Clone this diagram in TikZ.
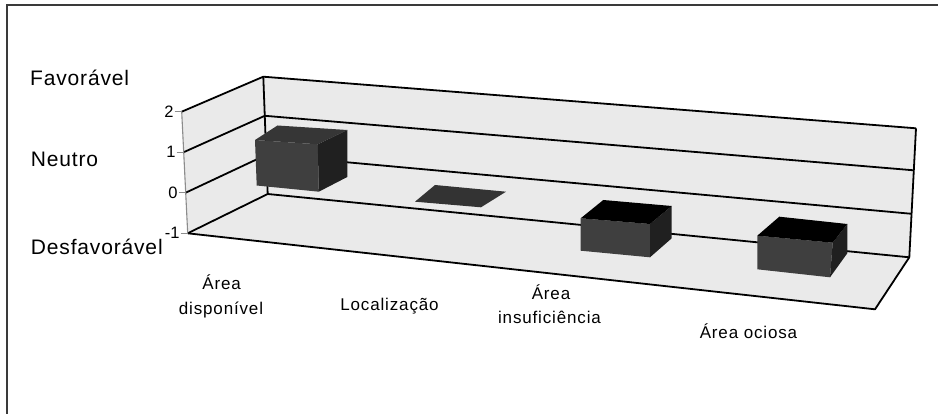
\documentclass[tikz,border=0pt]{standalone}
\usepackage{fontspec}
\setmainfont{Liberation Sans}
\newfontfamily\catfont[LetterSpace=5]{Liberation Sans}
\newfontfamily\bigfont[LetterSpace=4]{Liberation Sans}
\definecolor{wallgray}{HTML}{EAEAEA}
\definecolor{framegray}{HTML}{3A3A3A}
\definecolor{axisgray}{HTML}{8C8C8C}
\definecolor{barfront}{HTML}{3F3F3F}
\definecolor{barside}{HTML}{202020}
\definecolor{bartop}{HTML}{363636}
\definecolor{negtop}{HTML}{000000}
\definecolor{flatbar}{HTML}{333333}
\begin{document}
\begin{tikzpicture}[x=1pt,y=-1pt,
  wall/.style={fill=wallgray,draw=none},
  edgeline/.style={draw=black,line width=1.8pt,line join=round},
  axisline/.style={draw=axisgray,line width=1.1pt},
  tickline/.style={draw=axisgray,line width=0.9pt},
  ticklabel/.style={anchor=east,inner sep=0pt,font=\fontsize{16.5}{19}\selectfont},
  sidelabel/.style={anchor=base west,inner sep=0pt,font=\bigfont\fontsize{21}{25}\selectfont},
  catlabel/.style={anchor=base,inner sep=0pt,font=\catfont\fontsize{17}{20}\selectfont},
  frontface/.style={fill=barfront},
  sideface/.style={fill=barside},
  topface/.style={fill=bartop},
  negtopface/.style={fill=negtop},
  flatface/.style={fill=flatbar}]
\useasboundingbox (0,0) rectangle (938,414);
% frame
\draw[framegray,line width=2pt] (7,414) -- (7,5) -- (938,5);
% key corners of the 3-D box
\coordinate (F2) at (181.7,111.7); \coordinate (F1) at (183.7,152.2);
\coordinate (F0) at (185.7,192.7); \coordinate (Fm) at (187.7,233.3);
\coordinate (B2) at (263.3,76.7);  \coordinate (B1) at (264.8,115.8);
\coordinate (B0) at (266.2,154.9); \coordinate (Bm) at (267.7,194.0);
\coordinate (R2) at (916.0,128.3); \coordinate (R1) at (913.6,170.3);
\coordinate (R0) at (911.5,213.8); \coordinate (Rm) at (909.3,257.3);
\coordinate (FR) at (875.0,309.3);
% walls and floor
\fill[wall] (F2) -- (B2) -- (Bm) -- (Fm) -- cycle;
\fill[wall] (B2) -- (R2) -- (Rm) -- (Bm) -- cycle;
\fill[wall] (Fm) -- (Bm) -- (Rm) -- (FR) -- cycle;
% grid lines
\draw[edgeline] (F2) -- (B2) -- (R2);
\draw[edgeline] (F1) -- (B1) -- (R1);
\draw[edgeline] (F0) -- (B0) -- (R0);
\draw[edgeline] (Fm) -- (Bm) -- (Rm);
\draw[edgeline] (B2) -- (Bm);
\draw[edgeline] (R2) -- (Rm) -- (FR) -- (Fm);
% value axis
\draw[axisline] (F2) -- (Fm);
\foreach \p/\v in {F2/2,F1/1,F0/0,Fm/-1}{
  \draw[tickline] ([xshift=-7pt]\p) -- (\p);
  \node[ticklabel] (t\v) at ([xshift=-8pt]\p) {\v};
}
% bar 1 (positive)
\fill[frontface] (255,140) -- (317.8,144.3) -- (318.8,191.7) -- (256.7,185.5) -- cycle;
\fill[topface] (255,140) -- (277.5,125.5) -- (347.3,130) -- (317.8,144.3) -- cycle;
\fill[sideface] (317.8,144.3) -- (347.3,130) -- (347.3,177) -- (318.8,191.7) -- cycle;
% bar 2 (zero)
\fill[flatface] (415,201.7) -- (435,185) -- (506,191.7) -- (481,207.3) -- cycle;
% bar 3 (negative)
\fill[frontface] (580.7,218.3) -- (650,224) -- (650,257.3) -- (580.7,250.7) -- cycle;
\fill[sideface] (650,224) -- (671.7,206) -- (671.7,238.3) -- (650,257.3) -- cycle;
\fill[negtopface] (580.7,218.3) -- (603.3,200) -- (671.7,206) -- (650,224) -- cycle;
% bar 4 (negative)
\fill[frontface] (757.3,235.7) -- (832.7,242.7) -- (830,277.3) -- (757.3,269.3) -- cycle;
\fill[sideface] (832.7,242.7) -- (847.3,224) -- (847.3,253.3) -- (830,277.3) -- cycle;
\fill[negtopface] (757.3,235.7) -- (779.3,216.7) -- (847.3,224) -- (832.7,242.7) -- cycle;
% side labels
\node[sidelabel] (fav) at (30,86) {Favorável};
\node[sidelabel] (neu) at (30.7,166.7) {Neutro};
\node[sidelabel] (des) at (30.7,255) {Desfavorável};
% category labels
\node[catlabel] (c1a) at (221.7,290) {Área};
\node[catlabel] (c1b) at (221,315) {disponível};
\node[catlabel] (c2) at (389.5,310.7) {Localização};
\node[catlabel] (c3a) at (551,300) {Área};
\node[catlabel] (c3b) at (549.5,323.3) {insuficiência};
\node[catlabel] (c4) at (748.5,338.3) {Área ociosa};
\end{tikzpicture}
\end{document}
